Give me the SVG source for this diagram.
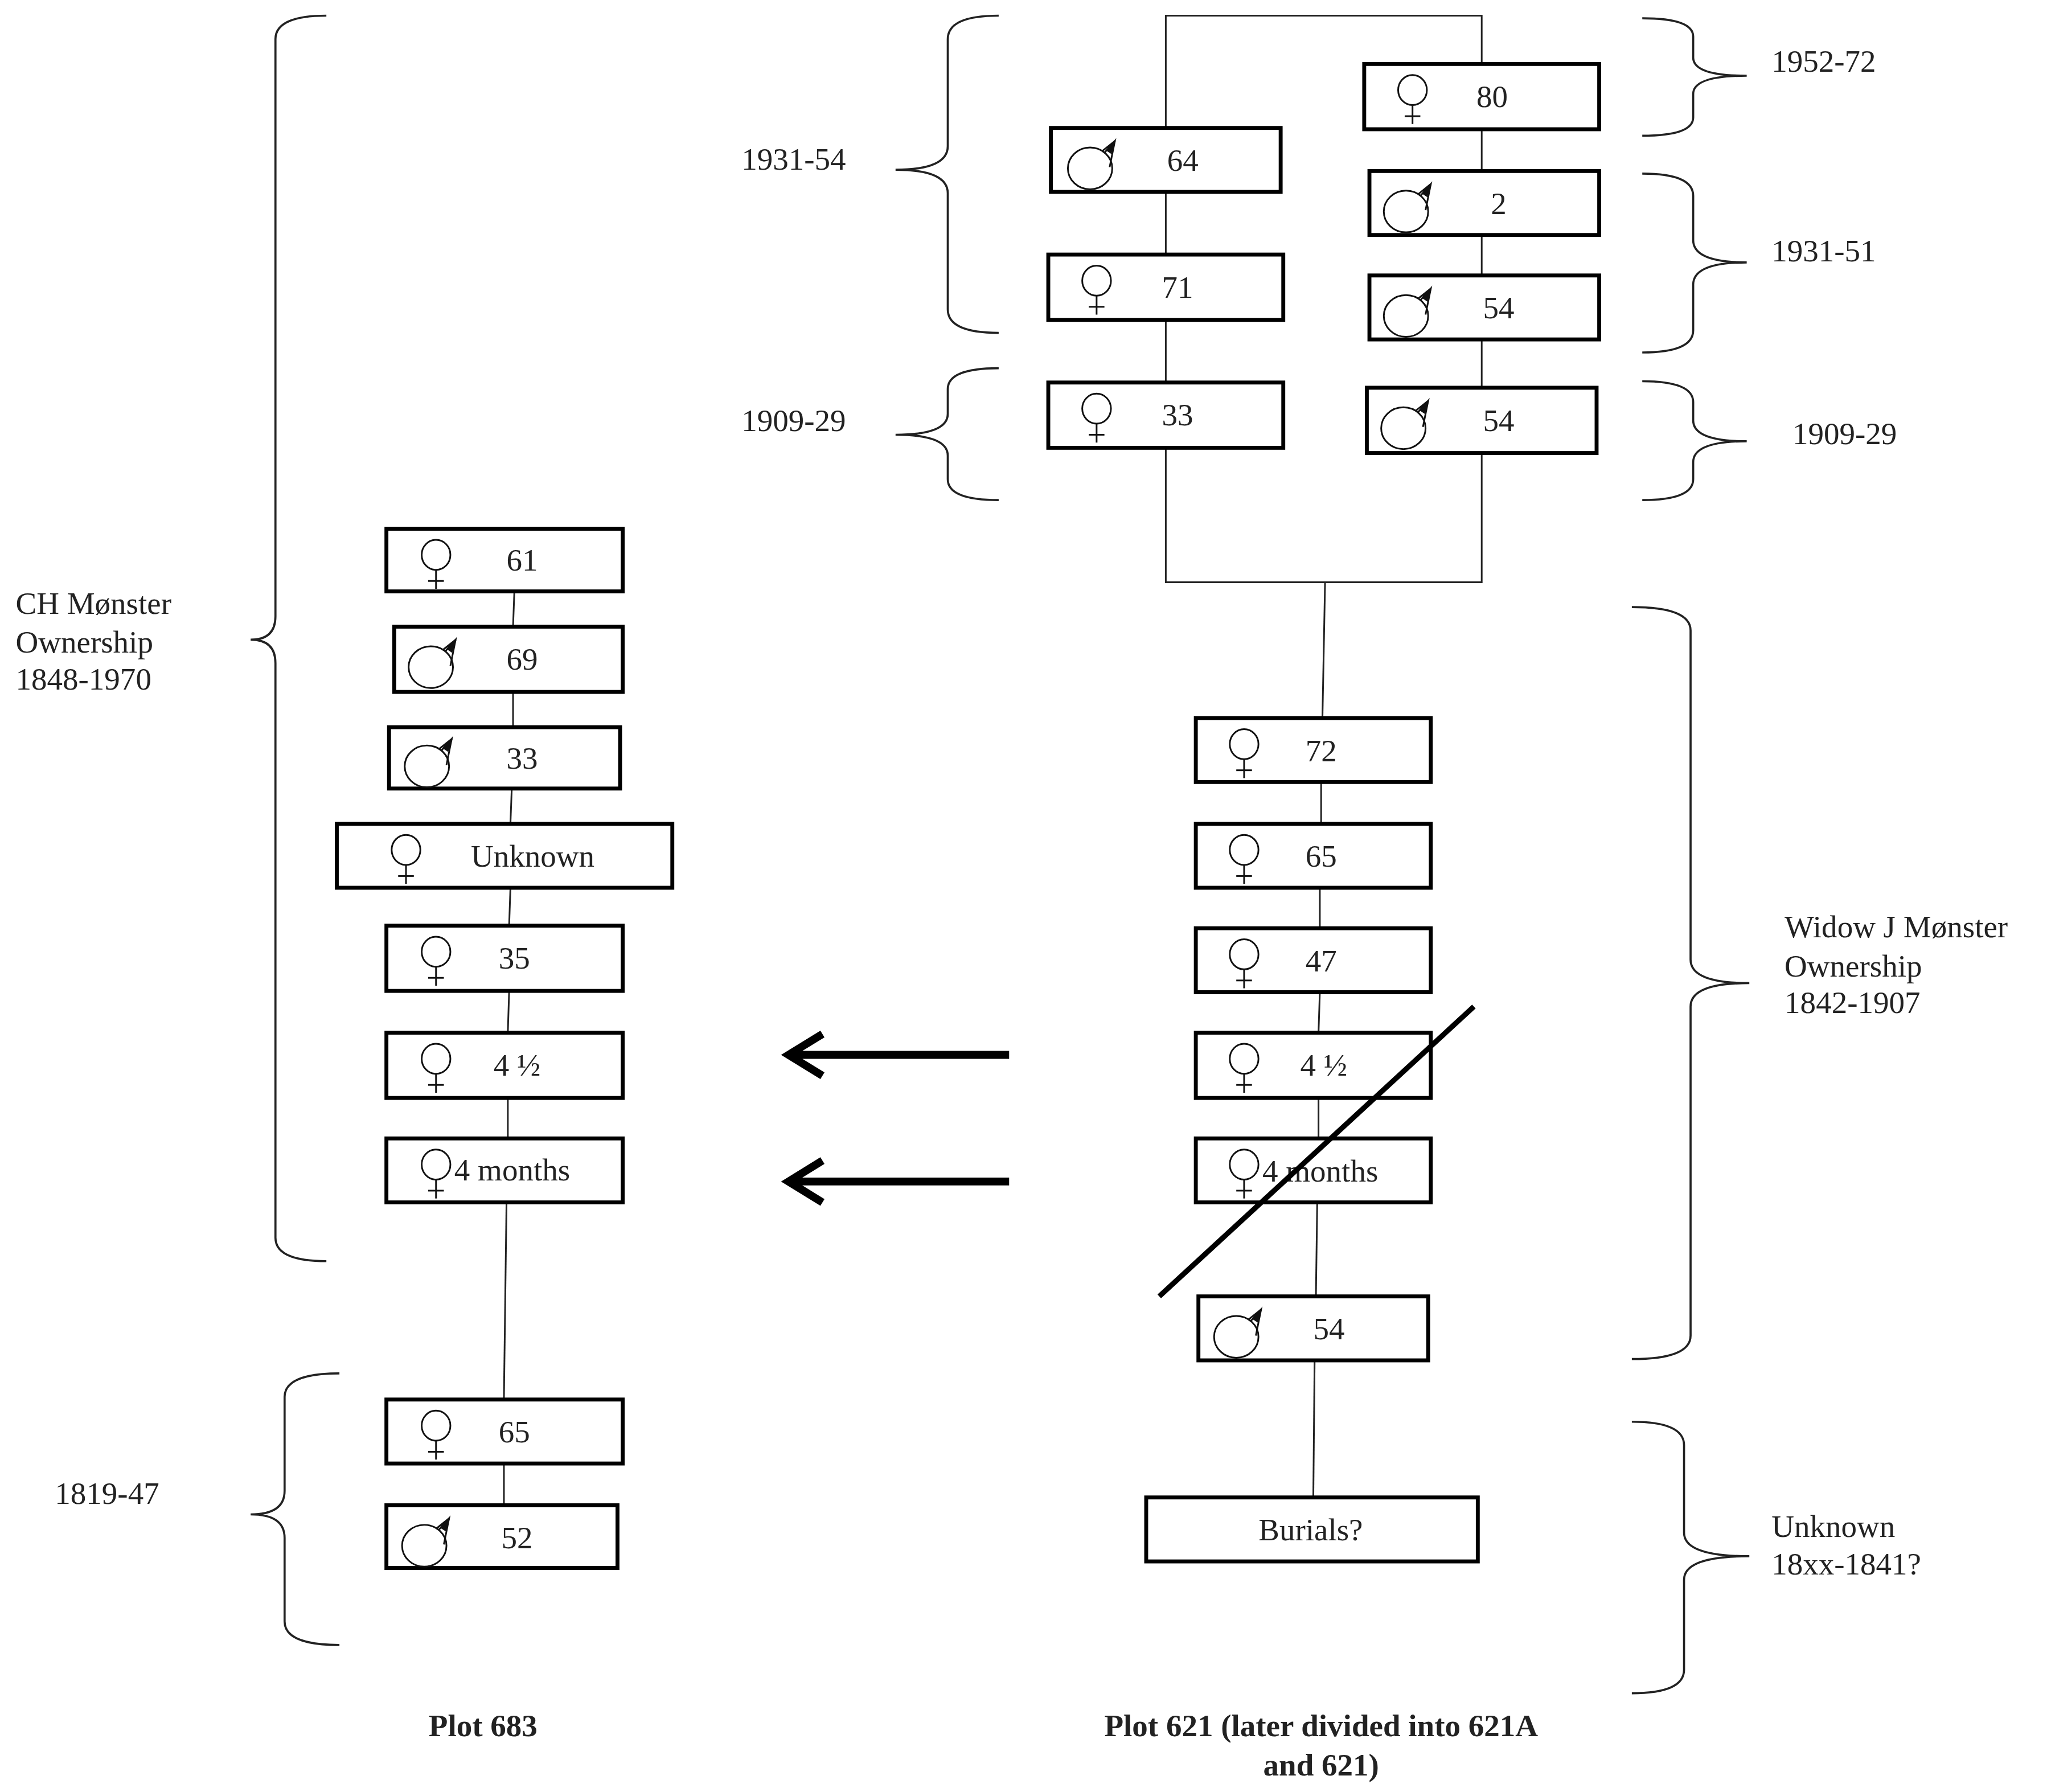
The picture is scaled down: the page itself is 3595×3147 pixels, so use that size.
<svg xmlns="http://www.w3.org/2000/svg" xmlns:xlink="http://www.w3.org/1999/xlink" width="3595" height="3147" viewBox="0 0 3595 3147">
<style>
.box{fill:#fff;stroke:#000;stroke-width:3}
.ln{fill:none;stroke:#222;stroke-width:1.3}
.br{fill:none;stroke:#222;stroke-width:1.6}
.t{font-family:"Liberation Serif",serif;font-size:24px;fill:#222}
.c{text-anchor:middle}
.b{font-weight:bold}
.sym{fill:none;stroke:#111;stroke-width:1.3}
</style>
<defs>
<g id="fem" class="sym"><ellipse cx="0" cy="-4" rx="11" ry="11.5"/><line x1="0" y1="7.5" x2="0" y2="22"/><line x1="-6" y1="16" x2="6" y2="16"/></g>
<g id="mal" class="sym"><ellipse cx="-3" cy="4" rx="17" ry="16"/><path d="M8,-8 L16,-17 L12,3 M6,-9 L16,-17" /><path d="M16,-17 L10,-10 L13,-8 Z" fill="#111"/></g>
</defs>
<rect width="3595" height="3147" fill="#fff"/>
<g transform="scale(2.2927)">
<g id="connectors">
<polyline class="ln" points="893,98 893,12 1135,12 1135,49"/>
<line class="ln" x1="893" y1="147" x2="893" y2="195"/>
<line class="ln" x1="893" y1="245" x2="893" y2="293"/>
<polyline class="ln" points="893,343 893,446 1135,446 1135,347"/>
<line class="ln" x1="1135" y1="99" x2="1135" y2="131"/>
<line class="ln" x1="1135" y1="180" x2="1135" y2="211"/>
<line class="ln" x1="1135" y1="260" x2="1135" y2="297"/>
<line class="ln" x1="1015" y1="446" x2="1013" y2="550"/>
<line class="ln" x1="1012" y1="599" x2="1012" y2="631"/>
<line class="ln" x1="1011" y1="680" x2="1011" y2="711"/>
<line class="ln" x1="1011" y1="760" x2="1010" y2="791"/>
<line class="ln" x1="1010" y1="841" x2="1010" y2="872"/>
<line class="ln" x1="1009" y1="921" x2="1008" y2="993"/>
<line class="ln" x1="1007" y1="1042" x2="1006" y2="1147"/>
<line class="ln" x1="394" y1="453" x2="393" y2="480"/>
<line class="ln" x1="393" y1="530" x2="393" y2="557"/>
<line class="ln" x1="392" y1="604" x2="391" y2="631"/>
<line class="ln" x1="391" y1="680" x2="390" y2="709"/>
<line class="ln" x1="390" y1="759" x2="389" y2="791"/>
<line class="ln" x1="389" y1="841" x2="389" y2="872"/>
<line class="ln" x1="388" y1="921" x2="386" y2="1072"/>
<line class="ln" x1="386" y1="1121" x2="386" y2="1153"/>
<path d="M773,808 H606 M630,792 L604,808 L630,824 M773,905 H606 M630,889 L604,905 L630,921" fill="none" stroke="#000" stroke-width="6"/>
</g>
<g id="n64"><rect class="box" x="805" y="98" width="176" height="49"/><use href="#mal" x="838" y="125"/><text class="t c" x="906" y="131">64</text></g>
<g id="n71"><rect class="box" x="803" y="195" width="180" height="50"/><use href="#fem" x="840" y="219"/><text class="t c" x="902" y="228">71</text></g>
<g id="n33a"><rect class="box" x="803" y="293" width="180" height="50"/><use href="#fem" x="840" y="317"/><text class="t c" x="902" y="326">33</text></g>
<g id="n80"><rect class="box" x="1045" y="49" width="180" height="50"/><use href="#fem" x="1082" y="73"/><text class="t c" x="1143" y="82">80</text></g>
<g id="n2"><rect class="box" x="1049" y="131" width="176" height="49"/><use href="#mal" x="1080" y="158"/><text class="t c" x="1148" y="164">2</text></g>
<g id="n54a"><rect class="box" x="1049" y="211" width="176" height="49"/><use href="#mal" x="1080" y="238"/><text class="t c" x="1148" y="244">54</text></g>
<g id="n54b"><rect class="box" x="1047" y="297" width="176" height="50"/><use href="#mal" x="1078" y="324"/><text class="t c" x="1148" y="330">54</text></g>
<g id="n72"><rect class="box" x="916" y="550" width="180" height="49"/><use href="#fem" x="953" y="574"/><text class="t c" x="1012" y="583">72</text></g>
<g id="n65r"><rect class="box" x="916" y="631" width="180" height="49"/><use href="#fem" x="953" y="655"/><text class="t c" x="1012" y="664">65</text></g>
<g id="n47"><rect class="box" x="916" y="711" width="180" height="49"/><use href="#fem" x="953" y="735"/><text class="t c" x="1012" y="744">47</text></g>
<g id="n4hr"><rect class="box" x="916" y="791" width="180" height="50"/><use href="#fem" x="953" y="815"/><text class="t c" x="1014" y="824">4 ½</text></g>
<g id="n4mr"><rect class="box" x="916" y="872" width="180" height="49"/><use href="#fem" x="953" y="896"/><text class="t" x="967" y="905">4 months</text></g>
<g id="n54r"><rect class="box" x="918" y="993" width="176" height="49"/><use href="#mal" x="950" y="1020"/><text class="t c" x="1018" y="1026">54</text></g>
<g id="nbur"><rect class="box" x="878" y="1147" width="254" height="49"/><text class="t c" x="1004" y="1180">Burials?</text></g>
<g id="n61"><rect class="box" x="296" y="405" width="181" height="48"/><use href="#fem" x="334" y="429"/><text class="t c" x="400" y="437">61</text></g>
<g id="n69"><rect class="box" x="302" y="480" width="175" height="50"/><use href="#mal" x="333" y="507"/><text class="t c" x="400" y="513">69</text></g>
<g id="n33l"><rect class="box" x="298" y="557" width="177" height="47"/><use href="#mal" x="330" y="583"/><text class="t c" x="400" y="589">33</text></g>
<g id="nunk"><rect class="box" x="258" y="631" width="257" height="49"/><use href="#fem" x="311" y="655"/><text class="t c" x="408" y="664">Unknown</text></g>
<g id="n35"><rect class="box" x="296" y="709" width="181" height="50"/><use href="#fem" x="334" y="733"/><text class="t c" x="394" y="742">35</text></g>
<g id="n4hl"><rect class="box" x="296" y="791" width="181" height="50"/><use href="#fem" x="334" y="815"/><text class="t c" x="396" y="824">4 ½</text></g>
<g id="n4ml"><rect class="box" x="296" y="872" width="181" height="49"/><use href="#fem" x="334" y="896"/><text class="t" x="348" y="904">4 months</text></g>
<g id="n65l"><rect class="box" x="296" y="1072" width="181" height="49"/><use href="#fem" x="334" y="1096"/><text class="t c" x="394" y="1105">65</text></g>
<g id="n52"><rect class="box" x="296" y="1153" width="177" height="48"/><use href="#mal" x="328" y="1180"/><text class="t c" x="396" y="1186">52</text></g>
<line x1="888" y1="993" x2="1129" y2="771" stroke="#000" stroke-width="4"/>
<g id="braces">
<path class="br" d="M250,12 Q211,12 211,30 L211,472 Q211,490 192,490 Q211,490 211,508 L211,948 Q211,966 250,966"/>
<path class="br" d="M260,1052 Q218,1052 218,1070 L218,1142 Q218,1160 192,1160 Q218,1160 218,1178 L218,1242 Q218,1260 260,1260"/>
<path class="br" d="M765,12 Q726,12 726,30 L726,112 Q726,130 686,130 Q726,130 726,148 L726,237 Q726,255 765,255"/>
<path class="br" d="M765,282 Q726,282 726,298 L726,317 Q726,333 686,333 Q726,333 726,349 L726,367 Q726,383 765,383"/>
<path class="br" d="M1258,14 Q1297,14 1297,28 L1297,44 Q1297,58 1338,58 Q1297,58 1297,72 L1297,90 Q1297,104 1258,104"/>
<path class="br" d="M1258,133 Q1297,133 1297,150 L1297,184 Q1297,201 1338,201 Q1297,201 1297,218 L1297,253 Q1297,270 1258,270"/>
<path class="br" d="M1258,292 Q1297,292 1297,308 L1297,322 Q1297,338 1338,338 Q1297,338 1297,354 L1297,367 Q1297,383 1258,383"/>
<path class="br" d="M1250,465 Q1295,465 1295,483 L1295,735 Q1295,753 1340,753 Q1295,753 1295,771 L1295,1023 Q1295,1041 1250,1041"/>
<path class="br" d="M1250,1089 Q1290,1089 1290,1107 L1290,1174 Q1290,1192 1340,1192 Q1290,1192 1290,1210 L1290,1279 Q1290,1297 1250,1297"/>
</g>
<g id="labels">
<text class="t" x="1357" y="55">1952-72</text>
<text class="t" x="568" y="130">1931-54</text>
<text class="t" x="1357" y="200">1931-51</text>
<text class="t" x="568" y="330">1909-29</text>
<text class="t" x="1373" y="340">1909-29</text>
<text class="t" x="12" y="470">CH Mønster</text>
<text class="t" x="12" y="500">Ownership</text>
<text class="t" x="12" y="528">1848-1970</text>
<text class="t" x="1367" y="718">Widow J Mønster</text>
<text class="t" x="1367" y="748">Ownership</text>
<text class="t" x="1367" y="776">1842-1907</text>
<text class="t" x="42" y="1152">1819-47</text>
<text class="t" x="1357" y="1177">Unknown</text>
<text class="t" x="1357" y="1206">18xx-1841?</text>
<text class="t c b" x="370" y="1330">Plot 683</text>
<text class="t c b" x="1012" y="1330">Plot 621 (later divided into 621A</text>
<text class="t c b" x="1012" y="1360">and 621)</text>
</g>
</g>
</svg>
